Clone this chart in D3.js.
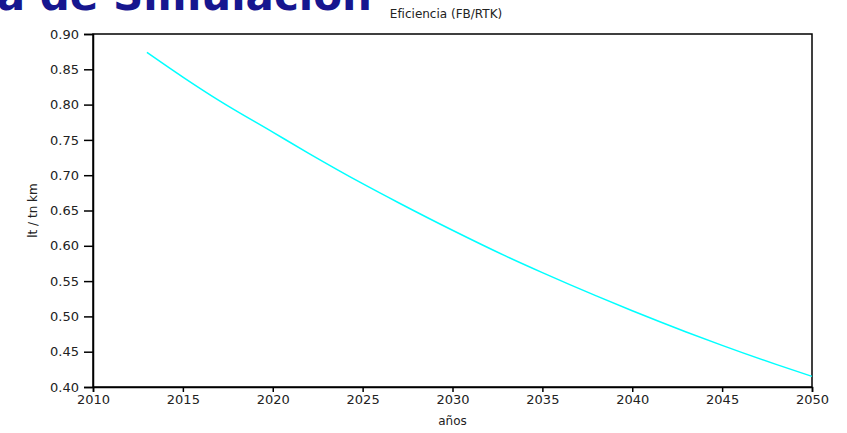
<!DOCTYPE html>
<html lang="es">
	<head>
		<meta charset="utf-8">
		<title>Eficiencia (FB/RTK)</title>
		<script type="text/javascript" src="https://cdn.jsdelivr.net/npm/d3@7"></script>
		<style type="text/css">
			body {
				margin: 0;
				background: #fff;
			}
			.axis text {
				font-family: "DejaVu Sans", sans-serif;
				font-size: 13px;
				fill: #222;
			}
			.axis path, .axis line {
				stroke: #000;
				stroke-width: 1.5;
			}
			.label {
				font-family: "DejaVu Sans", sans-serif;
				font-size: 12px;
				fill: #222;
				text-anchor: middle;
			}
			.banner {
				font-family: "DejaVu Sans", sans-serif;
				font-weight: bold;
				font-size: 42px;
				fill: #16168f;
				text-anchor: end;
			}
		</style>
	</head>
	<body>
		<script type="text/javascript">

			var w = 847;
			var h = 433;
			var margin = {top: 34, right: 35, bottom: 46, left: 93};

			// values
			var years = [2013, 2015, 2017, 2020, 2022, 2025, 2027, 2030, 2033, 2035, 2038, 2040, 2043, 2045, 2048, 2050];
			var efficiency = [0.874, 0.839, 0.806, 0.761, 0.731, 0.688, 0.661, 0.622, 0.585, 0.562, 0.529, 0.508, 0.478, 0.459, 0.432, 0.415];
			var xTicks = [2010, 2015, 2020, 2025, 2030, 2035, 2040, 2045, 2050];
			var yTicks = [0.40, 0.45, 0.50, 0.55, 0.60, 0.65, 0.70, 0.75, 0.80, 0.85, 0.90];

			var svg = d3.select("body")
				.append("svg")
				.attr("width", w)
				.attr("height", h);

			//slide title, cut off at the top edge like in the screenshot
			svg.append("text")
				.attr("class", "banner")
				.attr("x", 372)
				.attr("y", 10)
				.text("Salida de Simulación");

			var x = d3.scaleLinear()
				.domain([2010, 2050])
				.range([margin.left, w - margin.right]);

			var y = d3.scaleLinear()
				.domain([0.40, 0.90])
				.range([h - margin.bottom, margin.top]);

			//frame
			svg.append("rect")
				.attr("x", x(2010))
				.attr("y", y(0.90))
				.attr("width", x(2050) - x(2010))
				.attr("height", y(0.40) - y(0.90))
				.attr("fill", "none")
				.attr("stroke", "#000")
				.attr("stroke-width", 1.5);

			svg.append("g")
				.attr("class", "axis")
				.attr("transform", "translate(0," + (h - margin.bottom) + ")")
				.call(d3.axisBottom(x).tickValues(xTicks).tickFormat(d3.format("d")).tickSize(5).tickPadding(3));

			svg.append("g")
				.attr("class", "axis")
				.attr("transform", "translate(" + margin.left + ",0)")
				.call(d3.axisLeft(y).tickValues(yTicks).tickFormat(d3.format(".2f")).tickSize(9).tickPadding(5));

			var line = d3.line()
				.x(function (d, i) { return x(years[i]); })
				.y(function (d) { return y(d); })
				.curve(d3.curveMonotoneX);

			svg.append("path")
				.datum(efficiency)
				.attr("d", line)
				.attr("fill", "none")
				.attr("stroke", "#00ffff")
				.attr("stroke-width", 1.5);

			svg.append("text")
				.attr("class", "label")
				.attr("x", 446)
				.attr("y", 18)
				.text("Eficiencia (FB/RTK)");

			svg.append("text")
				.attr("class", "label")
				.attr("x", (x(2010) + x(2050)) / 2)
				.attr("y", 425)
				.text("años");

			svg.append("text")
				.attr("class", "label")
				.attr("transform", "translate(37," + ((y(0.40) + y(0.90)) / 2) + ") rotate(-90)")
				.text("lt / tn km");

		</script>
	</body>
</html>
